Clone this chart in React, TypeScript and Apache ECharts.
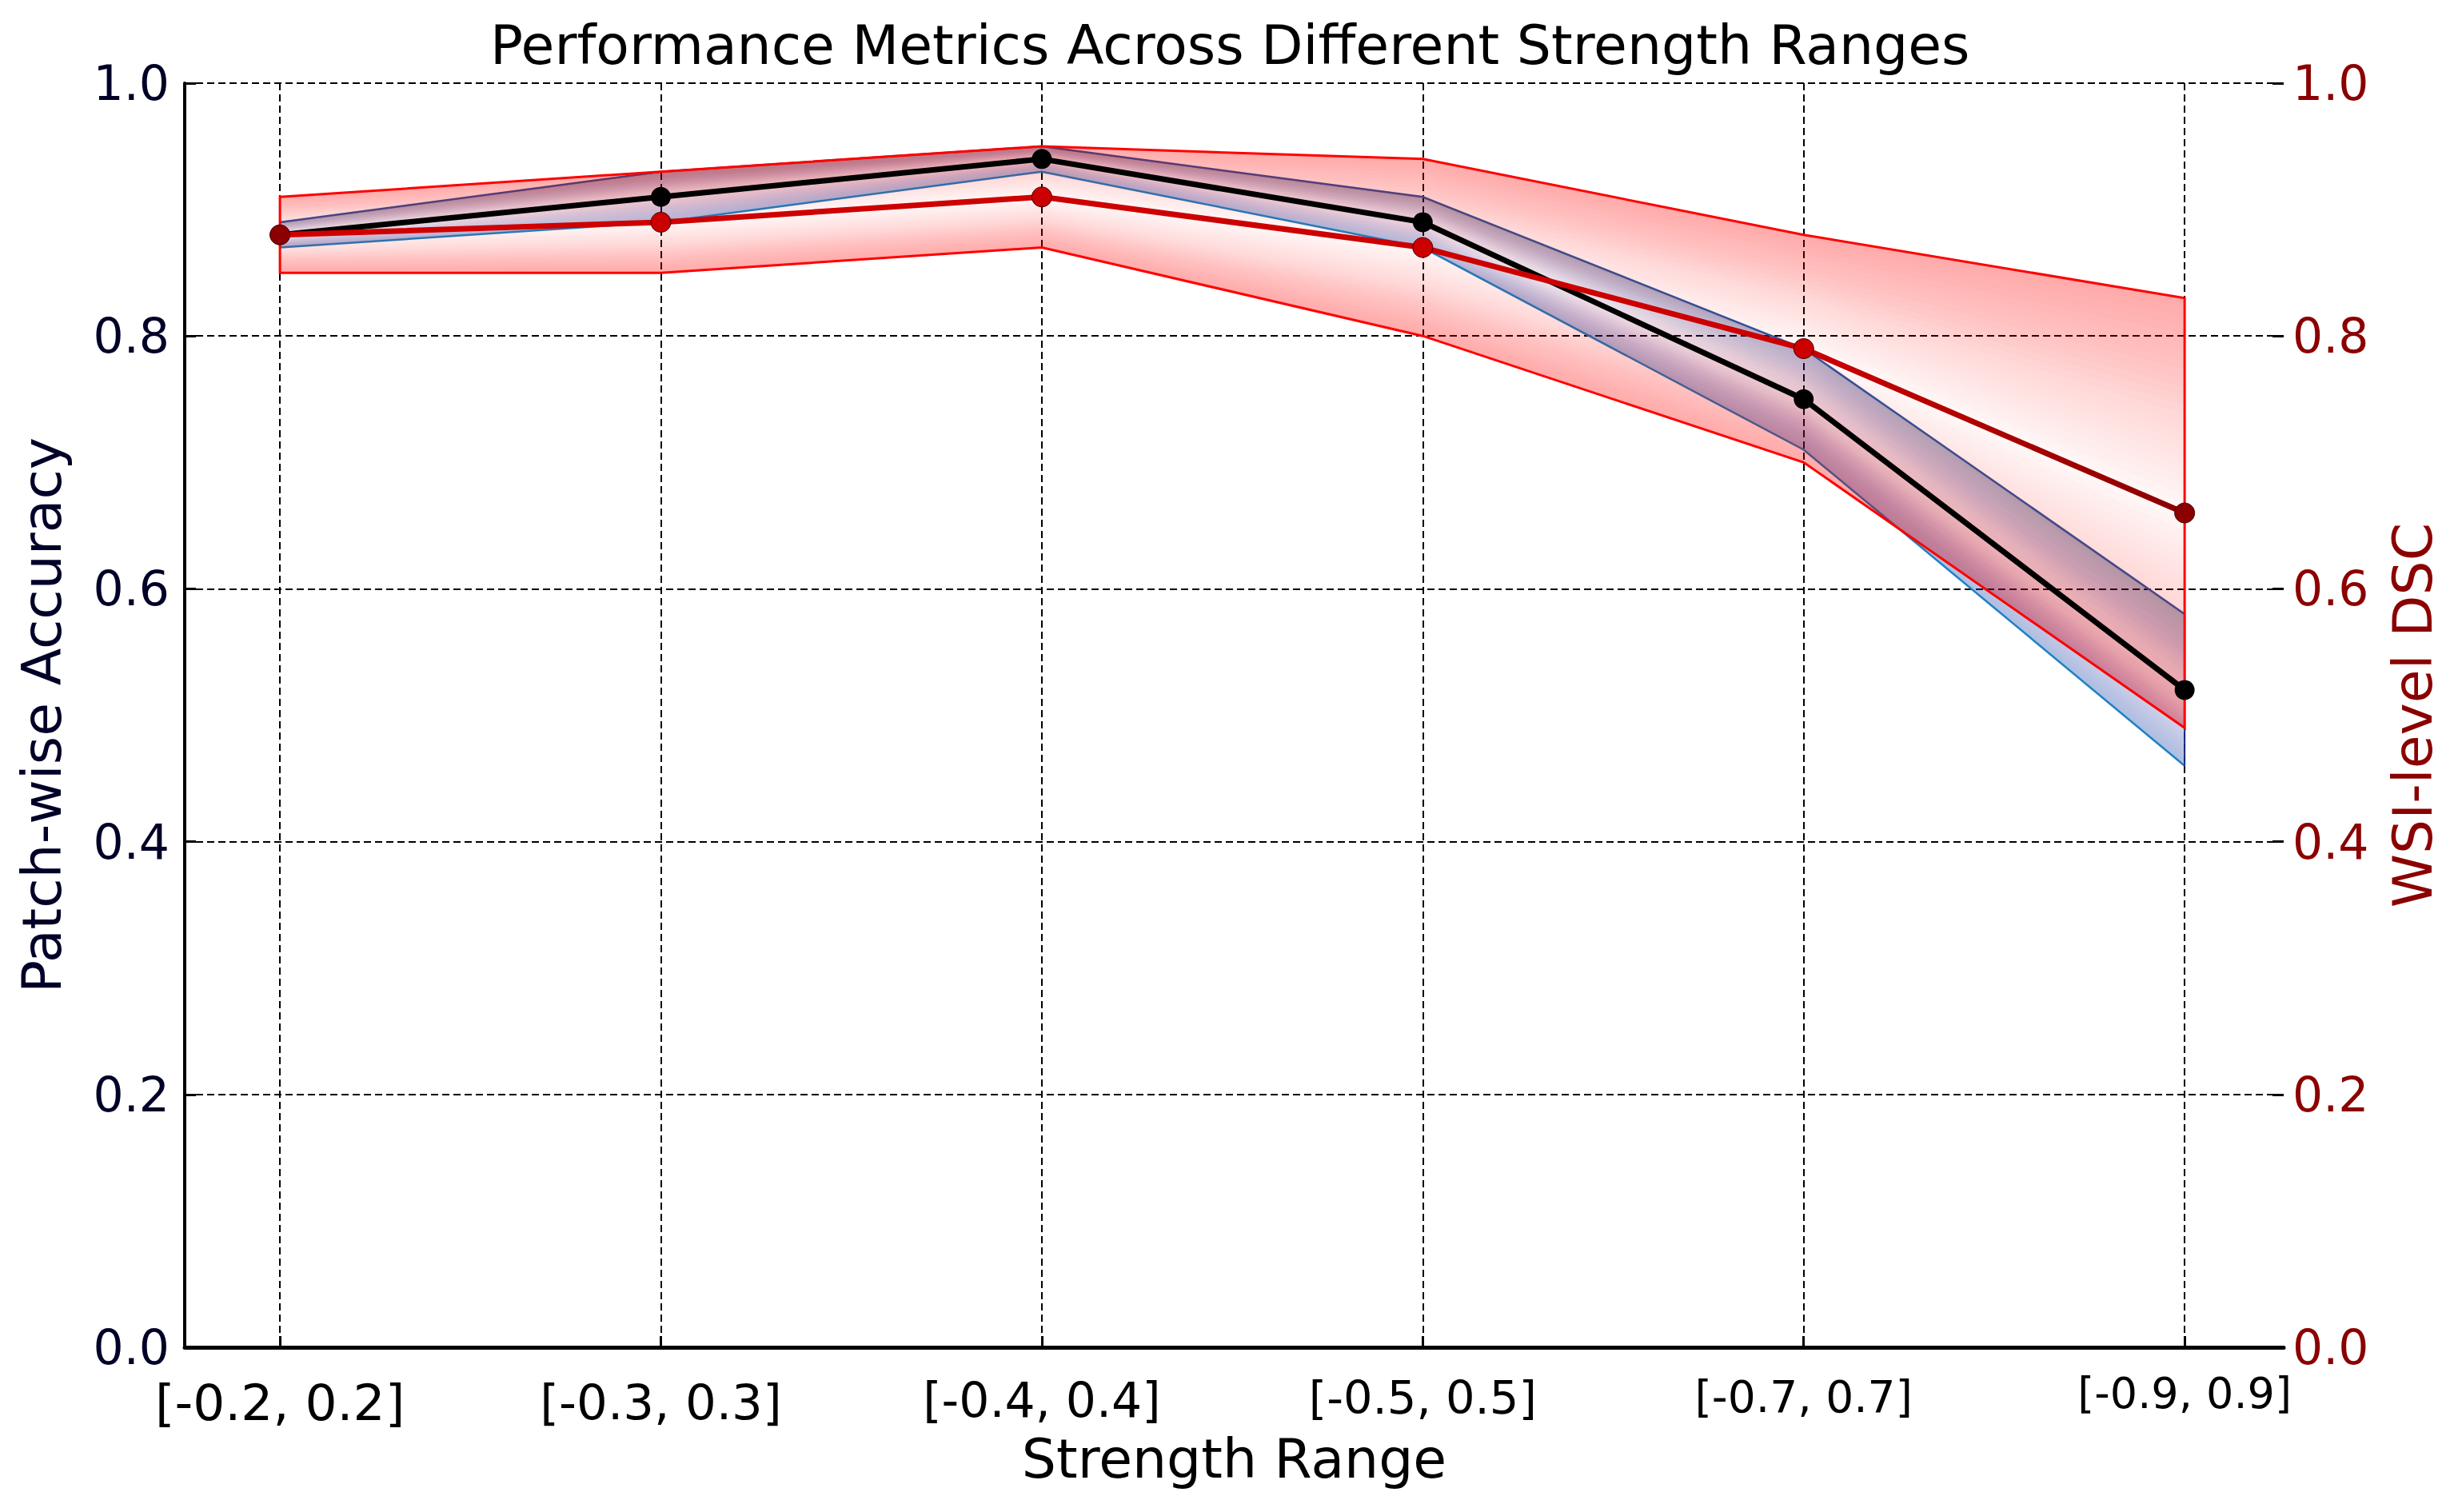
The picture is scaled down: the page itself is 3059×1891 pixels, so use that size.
import React, { useEffect, useRef } from "react";
import * as echarts from "echarts";

// ---------------- data ----------------
const CATEGORIES = ["[-0.2, 0.2]", "[-0.3, 0.3]", "[-0.4, 0.4]", "[-0.5, 0.5]", "[-0.7, 0.7]", "[-0.9, 0.9]"];
const ACC_MEAN = [0.88, 0.91, 0.94, 0.89, 0.75, 0.52];
const ACC_UPPER = [0.89, 0.93, 0.95, 0.91, 0.79, 0.58];
const ACC_LOWER = [0.87, 0.89, 0.93, 0.87, 0.71, 0.46];
const DSC_MEAN = [0.88, 0.89, 0.91, 0.87, 0.79, 0.66];
const DSC_UPPER = [0.91, 0.93, 0.95, 0.94, 0.88, 0.83];
const DSC_LOWER = [0.85, 0.85, 0.87, 0.8, 0.7, 0.49];
const Y_MIN = 0;
const Y_MAX = 1;
const Y_STEP = 0.2;

const TITLE = "Performance Metrics Across Different Strength Ranges";
const X_NAME = "Strength Range";
const Y_LEFT_NAME = "Patch-wise Accuracy";
const Y_RIGHT_NAME = "WSI-level DSC";

// ---------------- helpers ----------------
const FONT = '"DejaVu Sans", "Liberation Sans", sans-serif';
const X_IDX = CATEGORIES.map((_, i) => i);

type RGB = [number, number, number];
const mix = (a: RGB, b: RGB, t: number): RGB =>
  [0, 1, 2].map((i) => Math.round(a[i] + (b[i] - a[i]) * t)) as RGB;

function layerAlphas(n: number, target: (f: number) => number): number[] {
  const out: number[] = [];
  let prev = 0;
  for (let k = 0; k < n; k++) {
    const t = target((k + 0.5) / n);
    out.push(Math.max(0, 1 - (1 - t) / (1 - prev)));
    prev = t;
  }
  return out;
}

interface BandOpts {
  levels: number;
  alpha: (f: number) => number;
  color: (side: "upper" | "lower", f: number) => RGB;
  outline: (pt: (i: number, v: number) => number[], children: any[]) => void;
}

function bandRenderer(mean: number[], upper: number[], lower: number[], opts: BandOpts) {
  return (params: any, api: any) => {
    if (params.dataIndex !== 0) return null;
    const pt = (i: number, v: number) => api.coord([i, v]);
    const children: any[] = [];
    const alphas = layerAlphas(opts.levels, opts.alpha);
    (["upper", "lower"] as const).forEach((side) => {
      const edge = side === "upper" ? upper : lower;
      for (let k = 0; k < opts.levels; k++) {
        const f0 = k / opts.levels;
        const outer = edge.map((e, i) => pt(i, e));
        const inner = mean.map((m, i) => pt(i, m + (edge[i] - m) * f0)).reverse();
        const c = opts.color(side, (k + 0.5) / opts.levels);
        children.push({
          type: "polygon",
          silent: true,
          shape: { points: outer.concat(inner) },
          style: { fill: `rgba(${c[0]},${c[1]},${c[2]},${alphas[k].toFixed(4)})`, stroke: null },
        });
      }
    });
    opts.outline(pt, children);
    return { type: "group", children };
  };
}

const accRender = bandRenderer(ACC_MEAN, ACC_UPPER, ACC_LOWER, {
  levels: 24,
  alpha: (f) => 0.1 + 0.28 * f,
  color: (side, f) => {
    const base: RGB = [95, 95, 170];
    if (side === "upper") return mix(base, [25, 30, 120], f);
    return mix(base, [0, 185, 245], Math.max(0, (f - 0.4) / 0.6));
  },
  outline: (pt, children) => {
    const n = ACC_MEAN.length;
    children.push({
      type: "polyline",
      silent: true,
      shape: { points: ACC_UPPER.map((v, i) => pt(i, v)) },
      style: { stroke: "#2b55a0", lineWidth: 2.5, fill: null },
    });
    children.push({
      type: "polyline",
      silent: true,
      shape: { points: ACC_LOWER.map((v, i) => pt(i, v)) },
      style: { stroke: "#1f80c4", lineWidth: 2.5, fill: null },
    });
    [0, n - 1].forEach((i) => {
      const a = pt(i, ACC_UPPER[i]);
      const b = pt(i, ACC_LOWER[i]);
      children.push({
        type: "line",
        silent: true,
        shape: { x1: a[0], y1: a[1], x2: b[0], y2: b[1] },
        style: { stroke: "#1a2a80", lineWidth: 2 },
      });
    });
  },
});

const dscRender = bandRenderer(DSC_MEAN, DSC_UPPER, DSC_LOWER, {
  levels: 24,
  alpha: (f) => 0.03 + 0.28 * f,
  color: () => [252, 0, 0],
  outline: (pt, children) => {
    const pts = DSC_UPPER.map((v, i) => pt(i, v)).concat(
      DSC_LOWER.map((v, i) => pt(i, v)).reverse()
    );
    children.push({
      type: "polygon",
      silent: true,
      shape: { points: pts },
      style: { stroke: "#ff0000", lineWidth: 3, fill: null },
    });
  },
});

const gridDash = { color: "#000", width: 2, type: [9, 5] as any };

function buildOption(): any {
  const xLabelRich: any = {
    s0: { fontSize: 63, lineHeight: 78, fontFamily: FONT, color: "#000" },
    s1: { fontSize: 61, lineHeight: 76, fontFamily: FONT, color: "#000" },
    s2: { fontSize: 60, lineHeight: 72, fontFamily: FONT, color: "#000" },
    s3: { fontSize: 57.5, lineHeight: 66, fontFamily: FONT, color: "#000" },
    s4: { fontSize: 55, lineHeight: 64, fontFamily: FONT, color: "#000" },
    s5: { fontSize: 54, lineHeight: 55, fontFamily: FONT, color: "#000" },
  };
  return {
    animation: false,
    backgroundColor: "#ffffff",
    textStyle: { fontFamily: FONT },
    title: {
      text: TITLE,
      left: 613,
      top: 22,
      padding: 0,
      textStyle: { fontSize: 68, fontWeight: "normal", color: "#000", fontFamily: FONT },
    },
    grid: {
      left: 231,
      right: 203,
      top: 104,
      bottom: 206,
      containLabel: false,
      outerBoundsMode: "none",
    },
    xAxis: {
      type: "value",
      min: -0.25,
      max: 5.26,
      position: "bottom",
      axisLine: { show: true, onZero: false, lineStyle: { color: "#000", width: 5 } },
      axisTick: {
        show: true,
        inside: true,
        length: 14,
        customValues: X_IDX,
        lineStyle: { color: "#000", width: 3 },
      },
      axisLabel: {
        show: true,
        customValues: X_IDX,
        margin: 30,
        color: "#000",
        fontFamily: FONT,
        formatter: (v: number) => {
          const i = Math.round(v);
          return `{s${i}|${CATEGORIES[i]}}`;
        },
        rich: xLabelRich,
      },
      splitLine: { show: true, lineStyle: gridDash },
      name: X_NAME,
      nameLocation: "middle",
      nameGap: 103,
      nameTextStyle: { fontSize: 68, color: "#000", fontFamily: FONT },
    },
    yAxis: [
      {
        type: "value",
        position: "left",
        min: Y_MIN,
        max: Y_MAX,
        interval: Y_STEP,
        axisLine: { show: true, onZero: false, lineStyle: { color: "#000", width: 4 } },
        axisTick: { show: true, inside: true, length: 14, lineStyle: { color: "#000", width: 3 } },
        axisLabel: {
          color: "#000028",
          fontSize: 60,
          fontFamily: FONT,
          margin: 19,
          formatter: (v: number) => v.toFixed(1),
        },
        splitLine: { show: true, lineStyle: gridDash },
        name: Y_LEFT_NAME,
        nameLocation: "middle",
        nameGap: 145,
        nameTextStyle: { fontSize: 68, color: "#000028", fontFamily: FONT },
      },
      {
        type: "value",
        position: "right",
        min: Y_MIN,
        max: Y_MAX,
        interval: Y_STEP,
        axisLine: { show: false, onZero: false },
        axisTick: { show: true, inside: true, length: 14, lineStyle: { color: "#000", width: 3 } },
        axisLabel: {
          color: "#8b0000",
          fontSize: 60,
          fontFamily: FONT,
          margin: 11,
          formatter: (v: number) => v.toFixed(1),
        },
        splitLine: { show: false },
        name: Y_RIGHT_NAME,
        nameLocation: "middle",
        nameGap: 127,
        nameTextStyle: { fontSize: 68, color: "#8b0000", fontFamily: FONT },
      },
    ],
    series: [
      {
        type: "custom",
        name: "Accuracy range",
        coordinateSystem: "cartesian2d",
        xAxisIndex: 0,
        yAxisIndex: 0,
        z: 2,
        silent: true,
        data: [[0, ACC_MEAN[0]]],
        renderItem: accRender,
      },
      {
        type: "custom",
        name: "DSC range",
        coordinateSystem: "cartesian2d",
        xAxisIndex: 0,
        yAxisIndex: 1,
        z: 3,
        silent: true,
        data: [[0, DSC_MEAN[0]]],
        renderItem: dscRender,
      },
      {
        type: "line",
        name: Y_LEFT_NAME,
        xAxisIndex: 0,
        yAxisIndex: 0,
        z: 5,
        data: ACC_MEAN.map((v, i) => [i, v]),
        symbol: "circle",
        symbolSize: 25,
        showSymbol: true,
        lineStyle: { color: "#000", width: 7 },
        itemStyle: { color: "#000", borderColor: "#000", borderWidth: 0 },
      },
      {
        type: "line",
        name: Y_RIGHT_NAME,
        xAxisIndex: 0,
        yAxisIndex: 1,
        z: 6,
        data: DSC_MEAN.map((v, i) => [i, v]),
        symbol: "circle",
        symbolSize: 25,
        showSymbol: true,
        lineStyle: {
          width: 7,
          color: {
            type: "linear",
            x: 0,
            y: 0,
            x2: 1,
            y2: 0,
            colorStops: [
              { offset: 0, color: "#d00000" },
              { offset: 0.8, color: "#cc0000" },
              { offset: 1, color: "#8b0000" },
            ],
          },
        },
        itemStyle: {
          color: (p: any) =>
            p.dataIndex === 0 || p.dataIndex === CATEGORIES.length - 1 ? "#8b0000" : "#cc0000",
          borderColor: "#400000",
          borderWidth: 1,
        },
      },
    ],
  };
}

export default function App() {
  const ref = useRef<HTMLDivElement>(null);
  useEffect(() => {
    if (!ref.current) return;
    const chart = echarts.init(ref.current, undefined, { renderer: "svg" });
    chart.setOption(buildOption());
    return () => chart.dispose();
  }, []);
  return (
    <div
      ref={ref}
      style={{ position: "fixed", left: 0, top: 0, width: "3059px", height: "1891px", background: "#fff" }}
    />
  );
}
